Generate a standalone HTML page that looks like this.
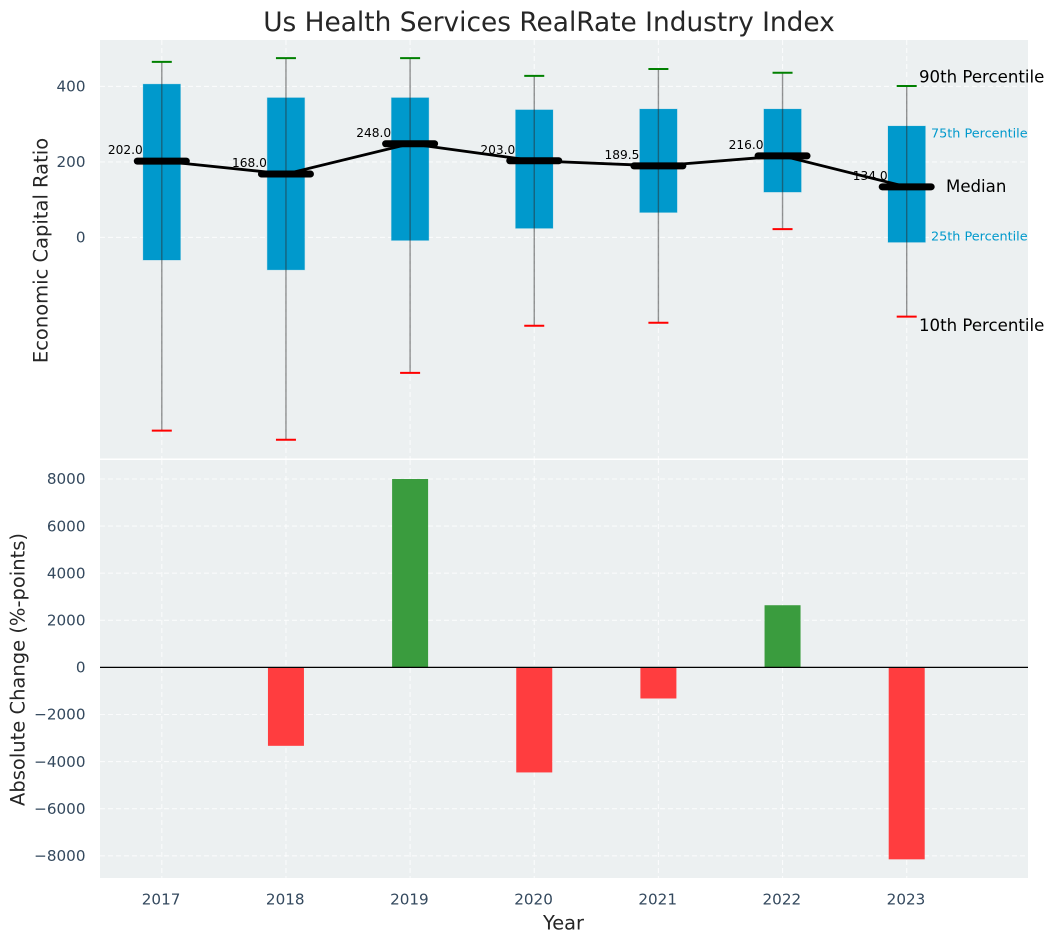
<!DOCTYPE html>
<html>
<head>
<meta charset="utf-8">
<title>Us Health Services RealRate Industry Index</title>
<style>
html,body{margin:0;padding:0;background:#fff;}
svg{display:block;font-family:"DejaVu Sans","Liberation Sans",sans-serif;}
</style>
</head>
<body>
<svg id="chart" xmlns="http://www.w3.org/2000/svg" width="1054" height="942" viewBox="0 0 1054 942">
<rect x="100" y="40" width="928" height="418.5" fill="#ecf0f1"/>
<rect x="100" y="460" width="928" height="418" fill="#ecf0f1"/>
<g id="grid"></g>
<g id="boxes"></g>
<g id="labels"></g>
<g id="whiskers"></g>
<g id="medians"></g>
<g id="bars"></g>
<g id="ticks"></g>
<text x="549" y="31" text-anchor="middle" font-size="26.4px" fill="#262626">Us Health Services RealRate Industry Index</text>
<text transform="translate(47.5,250.5) rotate(-90)" text-anchor="middle" font-size="19.5px" fill="#262626">Economic Capital Ratio</text>
<text transform="translate(24.5,669.5) rotate(-90)" text-anchor="middle" font-size="19.5px" fill="#262626">Absolute Change (%-points)</text>
<text x="563.5" y="929.5" text-anchor="middle" font-size="19.4px" fill="#262626">Year</text>
<text x="919" y="82.5" font-size="16.6px" fill="#000">90th Percentile</text>
<text x="931" y="137.5" font-size="12.8px" fill="#0099cc">75th Percentile</text>
<text x="946" y="192" font-size="16.6px" fill="#000">Median</text>
<text x="931" y="240.5" font-size="12.8px" fill="#0099cc">25th Percentile</text>
<text x="919" y="331" font-size="16.6px" fill="#000">10th Percentile</text>
</svg>
<script>
const years = [2017, 2018, 2019, 2020, 2021, 2022, 2023];
const p90 = [465, 475, 475, 428, 446, 436, 401];
const p75 = [406, 370, 370, 338, 340, 340, 295];
const medianValues = [202, 168, 248, 203, 189.5, 216, 134];
const p25 = [-60, -86, -8, 24, 66, 120, -13];
const p10 = [-512, -536, -359, -234, -226, 22, -210];
const changes = [0, -3330, 8000, -4460, -1320, 2640, -8150];
const topTicks = [400, 200, 0];
const bottomTicks = [8000, 6000, 4000, 2000, 0, -2000, -4000, -6000, -8000];

const NS = 'http://www.w3.org/2000/svg';
const xScale = function (year) { return 161.8 + (year - 2017) * 124.15; };
const yTop = function (v) { return 237.4 - v * 0.3775; };
const yBottom = function (v) { return 667.4 - v * 0.02355; };

function make(parentId, tag, attrs, text) {
  const node = document.createElementNS(NS, tag);
  Object.keys(attrs).forEach(function (k) { node.setAttribute(k, attrs[k]); });
  if (text !== undefined) node.textContent = text;
  document.getElementById(parentId).appendChild(node);
  return node;
}
function fmtTick(v) { return v < 0 ? '\u2212' + Math.abs(v) : String(v); }

const gridStyle = { stroke: '#ffffff', 'stroke-width': 1.1, 'stroke-dasharray': '5,3', 'stroke-opacity': 0.75 };
topTicks.forEach(function (v) {
  const y = yTop(v);
  const el = make('grid', 'line', Object.assign({ x1: 100, x2: 1028, y1: y, y2: y }, gridStyle));
  
  
  const lab = make('ticks', 'text', { x: 85.5, y: y + 5.2, 'text-anchor': 'end', 'font-size': '15.2px', fill: '#34495e' }, fmtTick(v));
  
  
});
bottomTicks.forEach(function (v) {
  const y = yBottom(v);
  const el = make('grid', 'line', Object.assign({ x1: 100, x2: 1028, y1: y, y2: y }, gridStyle));
  
  
  const lab = make('ticks', 'text', { x: 85.5, y: y + 5.2, 'text-anchor': 'end', 'font-size': '15.2px', fill: '#34495e' }, fmtTick(v));
  
  
});

years.forEach(function (yr, i) {
  const x = xScale(yr);

  const g1 = make('grid', 'line', Object.assign({ x1: x, x2: x, y1: 40, y2: 458.5 }, gridStyle));
  
  
  const g2 = make('grid', 'line', Object.assign({ x1: x, x2: x, y1: 460, y2: 878 }, gridStyle));
  
  

  const box = make('boxes', 'rect', { x: x - 18.7, y: yTop(p75[i]), width: 37.4, height: yTop(p25[i]) - yTop(p75[i]), fill: '#0099cc', stroke: '#0099cc', 'stroke-opacity': 0.2, 'stroke-width': 1 });
  
  

  const whisker = make('whiskers', 'line', { x1: x, x2: x, y1: yTop(p90[i]), y2: yTop(p10[i]), stroke: '#2b2b2b', 'stroke-opacity': 0.5, 'stroke-width': 1.4 });
  
  

  const capHi = make('whiskers', 'line', { x1: x - 10, x2: x + 10, y1: yTop(p90[i]), y2: yTop(p90[i]), stroke: '#008000', 'stroke-width': 2 });
  
  

  const capLo = make('whiskers', 'line', { x1: x - 10, x2: x + 10, y1: yTop(p10[i]), y2: yTop(p10[i]), stroke: '#ff0000', 'stroke-width': 2 });
  
  

  const label = make('labels', 'text', { x: x - 19, y: yTop(medianValues[i]) - 7, 'text-anchor': 'end', 'font-size': '12.2px', fill: '#000' }, medianValues[i].toFixed(1));
  
  

  const med = make('medians', 'line', { x1: x - 24.5, x2: x + 24.5, y1: yTop(medianValues[i]), y2: yTop(medianValues[i]), stroke: '#000', 'stroke-width': 7, 'stroke-linecap': 'round' });
  
  

  if (changes[i] !== 0) {
    const top = Math.min(yBottom(changes[i]), yBottom(0));
    const h = Math.abs(yBottom(changes[i]) - yBottom(0));
    const bar = make('bars', 'rect', { x: x - 18, y: top, width: 36, height: h, fill: changes[i] > 0 ? '#3a9c3e' : '#ff3d3f' });
    
    
  }

  const tick = make('ticks', 'text', { x: x - 0.7, y: 904.5, 'text-anchor': 'middle', 'font-size': '15.2px', fill: '#34495e' }, String(yr));
  
  
});

const medianPoints = years.map(function (yr, i) { return xScale(yr) + ',' + yTop(medianValues[i]); }).join(' ');
const medianLine = make('medians', 'polyline', { points: medianPoints, fill: 'none', stroke: '#000', 'stroke-width': 2.8 });



const zeroLine = make('bars', 'line', { x1: 100, x2: 1028, y1: yBottom(0), y2: yBottom(0), stroke: '#000', 'stroke-width': 1.3 });


</script>
</body>
</html>
